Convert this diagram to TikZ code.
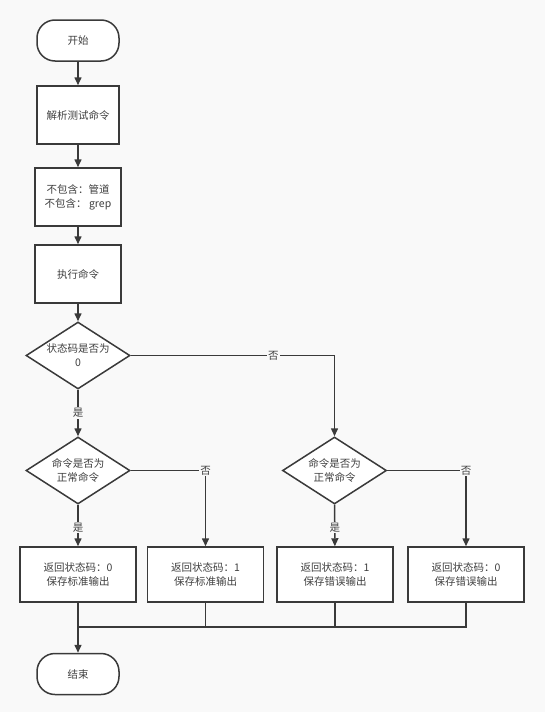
\documentclass[tikz,border=0pt]{standalone}
\usepackage{fontspec}
\setmainfont{Noto Sans CJK SC}
\usepackage{xcolor}
\usetikzlibrary{arrows.meta,shapes.geometric}
\definecolor{canvas}{HTML}{F9F9F9}
\definecolor{ink}{HTML}{3A3A3A}
\definecolor{txt}{HTML}{404040}
\tikzset{
  box/.style={draw=ink, line width=1.5pt, fill=white, rectangle, align=center, text=txt, font=\fontsize{10.5}{14}\selectfont, inner sep=2pt},
  proc/.style={box, minimum width=86pt, minimum height=58pt},
  res/.style={box, minimum width=116pt, minimum height=55pt},
  term/.style={box, rounded corners=18pt, minimum width=82pt, minimum height=41pt},
  cond/.style={box, diamond, aspect=1.55, minimum width=104pt, minimum height=67pt, inner sep=0pt},
  ln/.style={draw=ink, line width=1.5pt},
  arr/.style={ln, -{Triangle[length=8pt, width=7pt]}},
  lbl/.style={fill=canvas, text=txt, font=\fontsize{10.5}{12}\selectfont, inner sep=1pt}
}

\begin{document}
\begin{tikzpicture}[x=1pt, y=-1pt]
\fill[canvas] (0,0) rectangle (545,712);
\useasboundingbox (0,0) rectangle (545,712);
% main column
\node[term] (start) at (78,40.5) {开始};
\node[proc, minimum width=82pt] (parse) at (78,115) {解析测试命令};
\node[proc] (filter) at (78,197) {不包含：管道\\不包含： grep};
\node[proc] (exec) at (78,274) {执行命令};
\node[cond] (code) at (78,355.5) {状态码是否为\\0};
% second level checks
\node[cond] (okl) at (78,470.5) {命令是否为\\正常命令};
\node[cond] (okr) at (334.5,470.5) {命令是否为\\正常命令};
% results
\node[res] (r1) at (78,574.5) {返回状态码：0\\保存标准输出};
\node[res] (r2) at (205.5,574.5) {返回状态码：1\\保存标准输出};
\node[res] (r3) at (335,574.5) {返回状态码：1\\保存错误输出};
\node[res] (r4) at (466,574.5) {返回状态码：0\\保存错误输出};
\node[term] (stop) at (78,674) {结束};
\coordinate (join) at (78,627);

\foreach \s/\t in {start/parse,parse/filter,filter/exec,exec/code} \draw[arr] (\s) -- (\t);
\draw[arr] (code) -- node[lbl] {是} (okl);
\draw[arr] (code.east) -| node[lbl, pos=0.35] {否} (okr.north);
\draw[arr] (okl) -- node[lbl, pos=0.55] {是} (r1);
\draw[arr] (okl.east) -| node[lbl] {否} (r2.north);
\draw[arr] (okr) -- node[lbl, pos=0.55] {是} (r3);
\draw[arr] (okr.east) -| node[lbl] {否} (r4.north);
% merge to end
\draw[ln] (r4.south) |- (join);
\foreach \b in {r2,r3} \draw[ln] (\b.south) -- (\b.south |- join);
\draw[arr] (r1) -- (stop);
\end{tikzpicture}
\end{document}
